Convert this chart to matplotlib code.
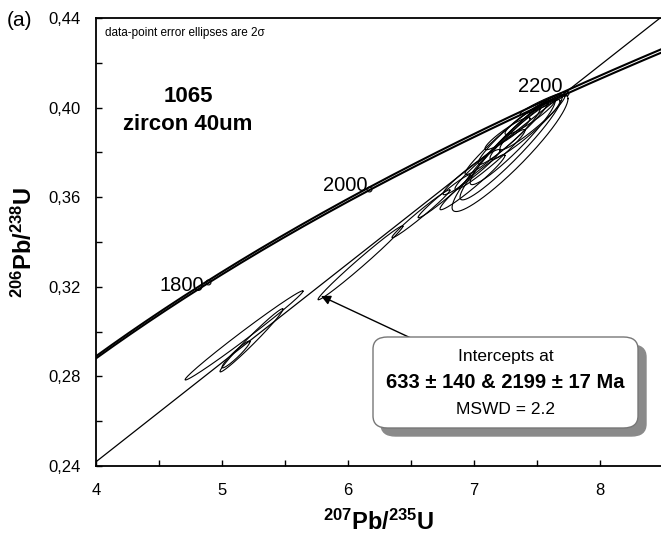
import numpy as np
import matplotlib
matplotlib.use("Agg")
import matplotlib.pyplot as plt
from matplotlib.patches import FancyBboxPatch
from matplotlib.ticker import MultipleLocator, FuncFormatter

plt.rcParams['font.family'] = ['Liberation Sans', 'DejaVu Sans']
plt.rcParams['mathtext.fontset'] = 'custom'
plt.rcParams['mathtext.rm'] = 'Liberation Sans'
plt.rcParams['mathtext.bf'] = 'Liberation Sans:bold'

# ---- data ----
# decay constants (1/yr)
lam238 = 1.55125e-10
lam235 = 9.8485e-10
lam_env = 0.0015          # relative envelope for concordia band
concordia_ages = [1550, 1600, 1650, 1700, 1750, 1800, 1850, 1900, 1950, 2000,
                  2050, 2100, 2150, 2200, 2250, 2300, 2350]   # Ma
label_ages = [1800, 2000, 2200]                              # Ma
lower_intercept = 633     # Ma
upper_intercept = 2199    # Ma

# error ellipses (2 sigma): 207Pb/235U, 206Pb/238U, errors, correlation
ell_x = [5.175, 5.234, 5.111, 6.099, 6.579, 6.762,
         7.286, 7.294, 7.306, 7.258, 7.278, 7.405, 7.464, 7.266, 6.988, 7.127,
         7.556, 7.444, 6.980]
ell_y = [0.2983, 0.2961, 0.2898, 0.3307, 0.3526, 0.3604,
         0.3797, 0.3823, 0.3846, 0.3864, 0.3873, 0.3902, 0.3935, 0.3884, 0.3667, 0.3768,
         0.4020, 0.3958, 0.3712]
ell_sx = [0.468, 0.250, 0.111, 0.337, 0.230, 0.206,
          0.460, 0.405, 0.337, 0.329, 0.246, 0.278, 0.258, 0.179, 0.258, 0.278,
          0.190, 0.198, 0.226]
ell_sy = [0.0199, 0.0141, 0.0060, 0.0165, 0.0107, 0.0096,
          0.0261, 0.0235, 0.0190, 0.0163, 0.0127, 0.0134, 0.0123, 0.0072, 0.0123, 0.0134,
          0.0051, 0.0078, 0.0101]
ell_rho = [0.993, 0.985, 0.95, 0.99, 0.985, 0.98,
           0.93, 0.95, 0.95, 0.97, 0.95, 0.95, 0.95, 0.93, 0.97, 0.97,
           0.95, 0.93, 0.96]

yticks = [0.24, 0.28, 0.32, 0.36, 0.40, 0.44]
xticks = [4, 5, 6, 7, 8]


def ratios(t_ma, k=1.0):
    t = np.asarray(t_ma, dtype=float) * 1e6
    return np.exp(lam235 * k * t) - 1, np.exp(lam238 * t) - 1


W, H = 661, 548
fig = plt.figure(figsize=(W / 100, H / 100), dpi=100)
ax = fig.add_axes([96 / W, 1 - 466 / H, (W - 96) / W, 448 / H])
ax.set_xlim(4, 4 + (W - 96) / 126)
ax.set_ylim(0.24, 0.44)

# concordia band
ages_fine = np.linspace(concordia_ages[0], concordia_ages[-1], 400)
for k in (1 - lam_env, 1 + lam_env):
    cx, cy = ratios(ages_fine, k)
    ax.plot(cx, cy, color='black', lw=1.5, solid_capstyle='butt', zorder=3)

# age markers & labels
lx, ly = ratios(label_ages)
ax.plot(lx, ly, 'o', ms=3.5, mfc='none', mec='black', mew=0.8, zorder=4)
offsets = [(-4, -3), (-2, 3), (-3, 6)]
for a, xx, yy, off in zip(label_ages, lx, ly, offsets):
    ax.annotate(str(a), (xx, yy), xytext=off, textcoords='offset pixels',
                ha='right', va='center', fontsize=14.5, zorder=5)

# discordia
dx, dy = ratios([lower_intercept, upper_intercept])
xs = np.array([dx[0], 9.0])
slope = (dy[1] - dy[0]) / (dx[1] - dx[0])
ax.plot(xs, dy[0] + slope * (xs - dx[0]), color='black', lw=0.9, zorder=2)

# ellipses
t = np.linspace(0, 2 * np.pi, 300)
for x0, y0, sx, sy, r in zip(ell_x, ell_y, ell_sx, ell_sy, ell_rho):
    ex = x0 + sx * np.cos(t)
    ey = y0 + sy * (r * np.cos(t) + np.sqrt(1 - r * r) * np.sin(t))
    ax.plot(ex, ey, color='black', lw=0.8, zorder=2)

# axes styling
for s in ('left', 'bottom', 'top'):
    ax.spines[s].set_linewidth(1.3)
ax.spines['right'].set_visible(False)
ax.set_xticks(xticks)
ax.set_yticks(yticks)
ax.xaxis.set_minor_locator(MultipleLocator(0.5))
ax.yaxis.set_minor_locator(MultipleLocator(0.02))
ax.yaxis.set_major_formatter(FuncFormatter(lambda v, p: f"{v:.2f}".replace('.', ',')))
ax.tick_params(which='both', direction='in', length=4, width=1, top=False, right=False)
ax.tick_params(axis='x', labelsize=12, pad=12)
ax.tick_params(axis='y', labelsize=12, pad=11)

ax.set_xlabel(r'$\mathbf{^{207}Pb/^{235}U}$', fontsize=17, labelpad=9)
ax.set_ylabel(r'$\mathbf{^{206}Pb/^{238}U}$', fontsize=17, labelpad=8)

# texts
fig.text(7 / W, 1 - 21 / H, '(a)', fontsize=15, va='center', ha='left')
fig.text(105 / W, 1 - 33 / H, 'data-point error ellipses are 2σ', fontsize=8.5,
         va='center', ha='left')
fig.text(188 / W, 1 - 96 / H, '1065', fontsize=16, fontweight='bold', ha='center', va='center')
fig.text(188 / W, 1 - 124 / H, 'zircon 40um', fontsize=16, fontweight='bold',
         ha='center', va='center')

# result box with shadow
bx0, by0, bx1, by1 = 373, 337, 638, 428
for off, fc, ec in (((8, 8), '#8a8a8a', '#8a8a8a'), ((0, 0), 'white', '#777777')):
    p = FancyBboxPatch(((bx0 + off[0]) / W, 1 - (by1 + off[1]) / H),
                       (bx1 - bx0) / W, (by1 - by0) / H,
                       boxstyle='round,pad=0,rounding_size=0.022',
                       transform=fig.transFigure, fc=fc, ec=ec, lw=1, zorder=10)
    fig.add_artist(p)
cxb = (bx0 + bx1) / 2 / W
fig.text(cxb, 1 - 357 / H, 'Intercepts at', fontsize=12.5, ha='center', va='center', zorder=11)
fig.text(cxb, 1 - 382 / H, '633 ± 140 & 2199 ± 17 Ma', fontsize=14.5, fontweight='bold',
         ha='center', va='center', zorder=11)
fig.text(cxb, 1 - 409 / H, 'MSWD = 2.2', fontsize=12.5, ha='center', va='center', zorder=11)

# arrow to discordia
ax.annotate('', xy=(321 / W, 1 - 296 / H), xycoords='figure fraction',
            xytext=(430 / W, 1 - 347 / H), textcoords='figure fraction',
            arrowprops=dict(arrowstyle='-|>', color='black', lw=1, mutation_scale=14,
                            shrinkA=0, shrinkB=0), zorder=9)

fig.savefig('out.png', dpi=100)
